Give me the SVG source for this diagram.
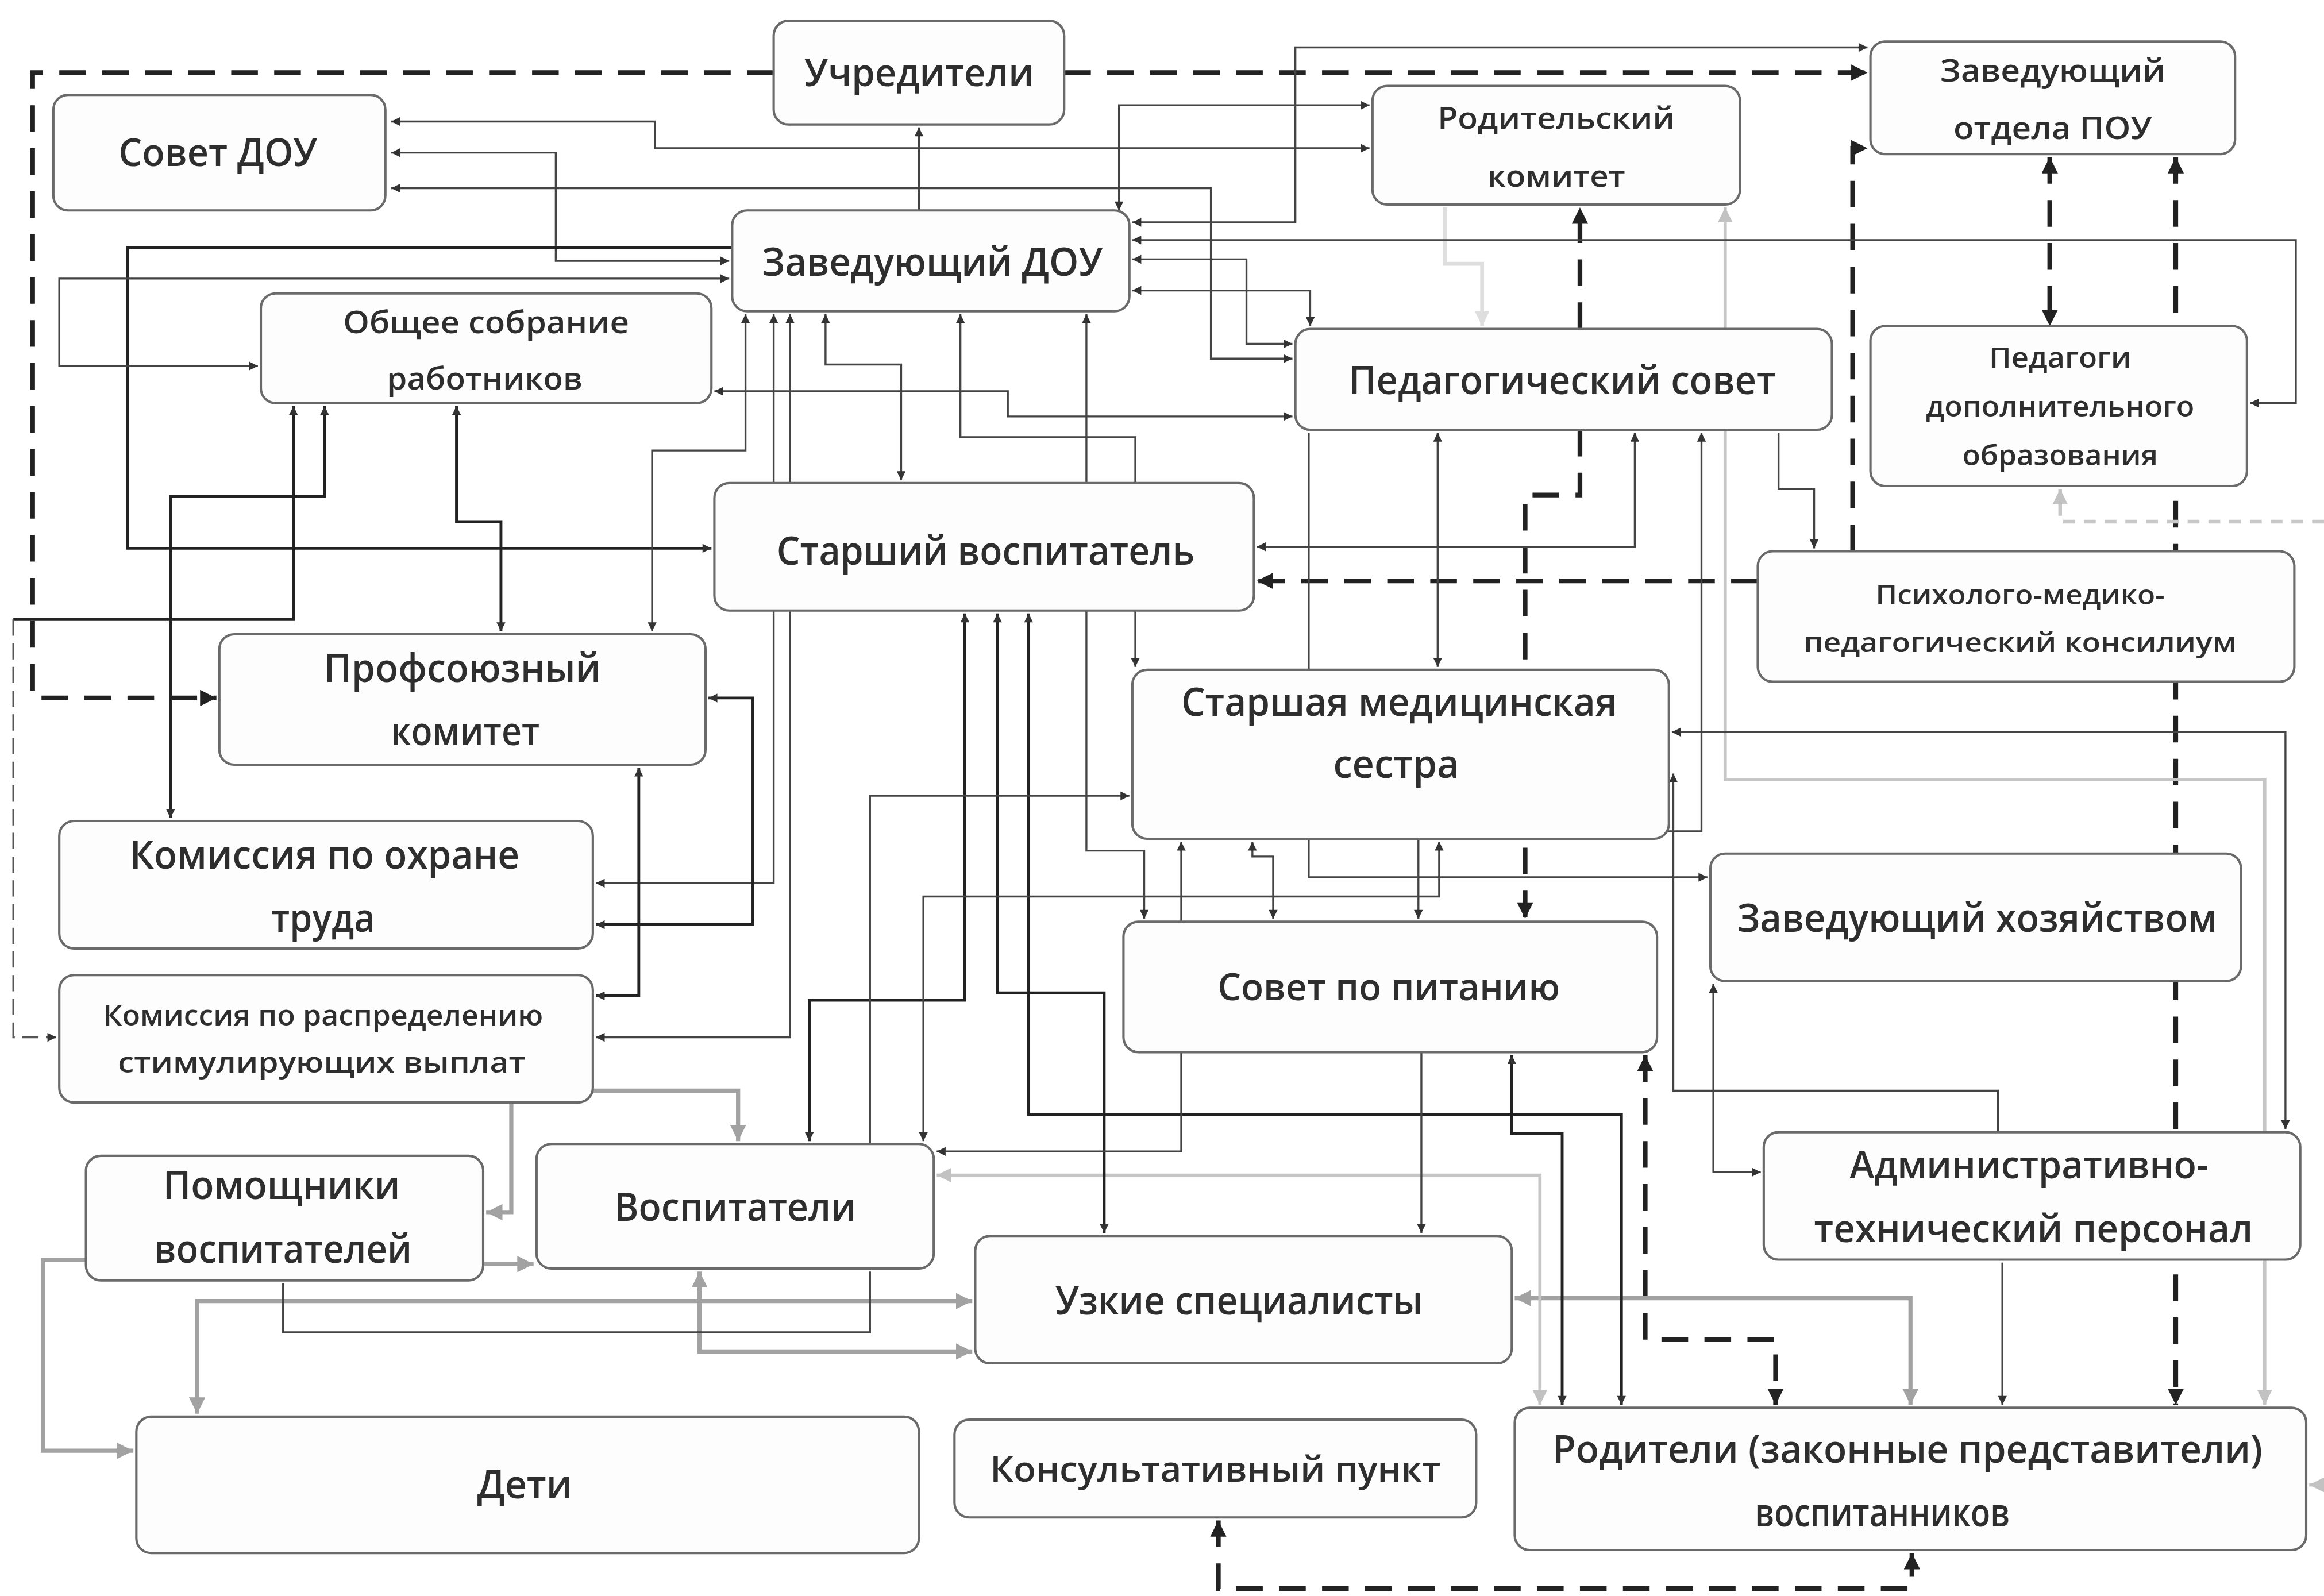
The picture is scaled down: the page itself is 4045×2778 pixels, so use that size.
<svg xmlns="http://www.w3.org/2000/svg" width="4045" height="2778" viewBox="0 0 4045 2778">
<defs>
<style>
.n rect{fill:#fdfdfd;stroke:#6a6a6a;stroke-width:1.6}
.n text{font-family:"Open Sans","Noto Sans","Liberation Sans",sans-serif;font-weight:600;fill:#2e2e2e;text-anchor:middle}
.c{fill:none;stroke:#444;stroke-width:1.3}
.k{fill:none;stroke:#222;stroke-width:1.9}
.g{fill:none;stroke:#a2a2a2;stroke-width:2.8}
.l{fill:none;stroke:#c6c6c6;stroke-width:2.2}
.lf{fill:none;stroke:#dedede;stroke-width:2.6}
.d{fill:none;stroke:#222;stroke-width:3.2;stroke-dasharray:18 11}
.dt{fill:none;stroke:#555;stroke-width:1.3;stroke-dasharray:11 5}
.ld{fill:none;stroke:#c8c8c8;stroke-width:2.5;stroke-dasharray:8 6}
</style>
<marker id="ak" viewBox="0 0 10 10" refX="10" refY="5" markerWidth="7" markerHeight="6" markerUnits="userSpaceOnUse" orient="auto-start-reverse"><path d="M0,0 L10,5 L0,10 z" fill="#333"/></marker>
<marker id="ad" viewBox="0 0 10 10" refX="10" refY="5" markerWidth="12" markerHeight="11" markerUnits="userSpaceOnUse" orient="auto-start-reverse"><path d="M0,0 L10,5 L0,10 z" fill="#222"/></marker>
<marker id="ag" viewBox="0 0 10 10" refX="10" refY="5" markerWidth="11" markerHeight="11" markerUnits="userSpaceOnUse" orient="auto-start-reverse"><path d="M0,0 L10,5 L0,10 z" fill="#a2a2a2"/></marker>
<marker id="al" viewBox="0 0 10 10" refX="10" refY="5" markerWidth="10" markerHeight="10" markerUnits="userSpaceOnUse" orient="auto-start-reverse"><path d="M0,0 L10,5 L0,10 z" fill="#c2c2c2"/></marker>
<marker id="af" viewBox="0 0 10 10" refX="10" refY="5" markerWidth="10" markerHeight="10" markerUnits="userSpaceOnUse" orient="auto-start-reverse"><path d="M0,0 L10,5 L0,10 z" fill="#dedede"/></marker>
</defs>
<rect x="0" y="0" width="4045" height="2778" fill="#ffffff"/>
<g transform="scale(2.5797,2.5794)">
<g id="connectors">
<path class="d" d="M522,49 L22,49 L22,471 L146,471" marker-end="url(#ad)"/>
<path class="d" d="M718,49 L1260,49" marker-end="url(#ad)"/>
<path class="d" d="M1250,372 L1250,100 L1260,100" marker-end="url(#ad)"/>
<path class="d" d="M1186,392 L848,392" marker-end="url(#ad)"/>
<path class="d" d="M1383,106 L1383,220" marker-start="url(#ad)" marker-end="url(#ad)"/>
<path class="d" d="M1468,106 L1468,948" marker-start="url(#ad)" marker-end="url(#ad)"/>
<path class="d" d="M1066,290 L1066,334 L1029,334 L1029,620" marker-end="url(#ad)"/>
<path class="d" d="M1066,222 L1066,140" marker-end="url(#ad)"/>
<path class="d" d="M1110,712 L1110,904 L1198,904 L1198,948" marker-start="url(#ad)" marker-end="url(#ad)"/>
<path class="d" d="M822,1026 L822,1072 L1290,1072 L1290,1048" marker-start="url(#ad)" marker-end="url(#ad)"/>
<path class="ld" d="M1568,352 L1390,352 L1390,330" marker-end="url(#al)"/>
<path class="g" d="M656,878 L133,878 L133,954" marker-start="url(#ag)" marker-end="url(#ag)"/>
<path class="g" d="M472,858 L472,912 L656,912" marker-start="url(#ag)" marker-end="url(#ag)"/>
<path class="g" d="M326,853 L360,853" marker-end="url(#ag)"/>
<path class="g" d="M345,744 L345,818 L328,818" marker-end="url(#ag)"/>
<path class="g" d="M400,736 L498,736 L498,770" marker-end="url(#ag)"/>
<path class="g" d="M58,850 L29,850 L29,979 L90,979" marker-end="url(#ag)"/>
<path class="g" d="M1022,876 L1289,876 L1289,948" marker-start="url(#ag)" marker-end="url(#ag)"/>
<path class="l" d="M1164,140 L1164,526 L1528,526 L1528,948" marker-start="url(#al)" marker-end="url(#al)"/>
<path class="l" d="M632,793 L1039,793 L1039,948" marker-start="url(#al)" marker-end="url(#al)"/>
<path class="lf" d="M975,140 L975,178 L1000,178 L1000,220" marker-end="url(#af)"/>
<path class="l" d="M1568,1002 L1558,1002" marker-end="url(#al)"/>
<path class="c" d="M620,142 L620,86" marker-end="url(#ak)"/>
<path class="c" d="M264,82 L442,82 L442,100 L924,100" marker-start="url(#ak)" marker-end="url(#ak)"/>
<path class="c" d="M264,103 L375,103 L375,176 L492,176" marker-start="url(#ak)" marker-end="url(#ak)"/>
<path class="c" d="M264,127 L817,127 L817,242 L872,242" marker-start="url(#ak)" marker-end="url(#ak)"/>
<path class="c" d="M764,150 L874,150 L874,32 L1260,32" marker-start="url(#ak)" marker-end="url(#ak)"/>
<path class="c" d="M755,142 L755,71 L924,71" marker-start="url(#ak)" marker-end="url(#ak)"/>
<path class="c" d="M764,162 L1549,162 L1549,272 L1518,272" marker-start="url(#ak)" marker-end="url(#ak)"/>
<path class="c" d="M764,175 L841,175 L841,232 L872,232" marker-start="url(#ak)" marker-end="url(#ak)"/>
<path class="c" d="M764,196 L884,196 L884,220" marker-start="url(#ak)" marker-end="url(#ak)"/>
<path class="k" d="M494,167 L86,167 L86,370 L480,370" marker-end="url(#ak)"/>
<path class="c" d="M492,188 L40,188 L40,247 L174,247" marker-start="url(#ak)" marker-end="url(#ak)"/>
<path class="c" d="M503,212 L503,304 L440,304 L440,426" marker-start="url(#ak)" marker-end="url(#ak)"/>
<path class="c" d="M522,212 L522,596 L402,596" marker-start="url(#ak)" marker-end="url(#ak)"/>
<path class="c" d="M533,212 L533,700 L402,700" marker-start="url(#ak)" marker-end="url(#ak)"/>
<path class="c" d="M557,212 L557,246 L608,246 L608,324" marker-start="url(#ak)" marker-end="url(#ak)"/>
<path class="c" d="M648,212 L648,295 L766,295 L766,450" marker-start="url(#ak)" marker-end="url(#ak)"/>
<path class="c" d="M733,212 L733,574 L772,574 L772,620" marker-start="url(#ak)" marker-end="url(#ak)"/>
<path class="c" d="M482,264 L680,264 L680,281 L872,281" marker-start="url(#ak)" marker-end="url(#ak)"/>
<path class="k" d="M198,274 L198,418 L9,418" marker-start="url(#ak)"/>
<path class="dt" d="M9,418 L9,700 L38,700" marker-end="url(#ak)"/>
<path class="k" d="M219,274 L219,335 L115,335 L115,552" marker-start="url(#ak)" marker-end="url(#ak)"/>
<path class="k" d="M308,274 L308,352 L338,352 L338,426" marker-start="url(#ak)" marker-end="url(#ak)"/>
<path class="k" d="M478,471 L508,471 L508,624 L402,624" marker-start="url(#ak)" marker-end="url(#ak)"/>
<path class="k" d="M431,518 L431,672 L402,672" marker-start="url(#ak)" marker-end="url(#ak)"/>
<path class="c" d="M1103,292 L1103,369 L848,369" marker-start="url(#ak)" marker-end="url(#ak)"/>
<path class="c" d="M1148,292 L1148,561 L957,561 L957,620" marker-start="url(#ak)" marker-end="url(#ak)"/>
<path class="c" d="M970,292 L970,450" marker-start="url(#ak)" marker-end="url(#ak)"/>
<path class="c" d="M883,292 L883,592 L1152,592" marker-end="url(#ak)"/>
<path class="c" d="M1200,292 L1200,330 L1224,330 L1224,370" marker-end="url(#ak)"/>
<path class="k" d="M651,414 L651,675 L546,675 L546,770" marker-start="url(#ak)" marker-end="url(#ak)"/>
<path class="k" d="M673,414 L673,670 L745,670 L745,832" marker-start="url(#ak)" marker-end="url(#ak)"/>
<path class="k" d="M694,414 L694,752 L1094,752 L1094,948" marker-start="url(#ak)" marker-end="url(#ak)"/>
<path class="c" d="M971,568 L971,605 L623,605 L623,770" marker-start="url(#ak)" marker-end="url(#ak)"/>
<path class="c" d="M797,568 L797,777 L632,777" marker-start="url(#ak)" marker-end="url(#ak)"/>
<path class="c" d="M845,568 L845,578 L859,578 L859,620" marker-start="url(#ak)" marker-end="url(#ak)"/>
<path class="c" d="M587,772 L587,537 L762,537" marker-end="url(#ak)"/>
<path class="c" d="M191,866 L191,899 L587,899 L587,858"/>
<path class="c" d="M1128,494 L1542,494 L1542,762" marker-start="url(#ak)" marker-end="url(#ak)"/>
<path class="c" d="M1129,522 L1129,736 L1348,736 L1348,764" marker-start="url(#ak)"/>
<path class="c" d="M1156,664 L1156,791 L1188,791" marker-start="url(#ak)" marker-end="url(#ak)"/>
<path class="c" d="M1351,852 L1351,948" marker-end="url(#ak)"/>
<path class="k" d="M1020,712 L1020,765 L1054,765 L1054,948" marker-start="url(#ak)" marker-end="url(#ak)"/>
<path class="c" d="M959,710 L959,832" marker-end="url(#ak)"/>
</g>
<g id="n-uchrediteli" class="n"><rect x="522" y="14" width="196" height="70" rx="10"/><text x="620" y="58" font-size="26" textLength="155" lengthAdjust="spacingAndGlyphs">Учредители</text></g>
<g id="n-sovet-dou" class="n"><rect x="36" y="64" width="224" height="78" rx="10"/><text x="147" y="112" font-size="26" textLength="134" lengthAdjust="spacingAndGlyphs">Совет ДОУ</text></g>
<g id="n-rod-komitet" class="n"><rect x="926" y="58" width="248" height="80" rx="10"/><text x="1050" y="87" font-size="20" textLength="160" lengthAdjust="spacingAndGlyphs">Родительский</text><text x="1050" y="126" font-size="20" textLength="93" lengthAdjust="spacingAndGlyphs">комитет</text></g>
<g id="n-zav-pou" class="n"><rect x="1262" y="28" width="246" height="76" rx="10"/><text x="1385" y="55" font-size="21" textLength="152" lengthAdjust="spacingAndGlyphs">Заведующий</text><text x="1385" y="94" font-size="21" textLength="134" lengthAdjust="spacingAndGlyphs">отдела ПОУ</text></g>
<g id="n-zav-dou" class="n"><rect x="494" y="142" width="268" height="68" rx="10"/><text x="629" y="186" font-size="27" textLength="230" lengthAdjust="spacingAndGlyphs">Заведующий ДОУ</text></g>
<g id="n-obshee" class="n"><rect x="176" y="198" width="304" height="74" rx="10"/><text x="328" y="225" font-size="21" textLength="193" lengthAdjust="spacingAndGlyphs">Общее собрание</text><text x="327" y="263" font-size="21" textLength="132" lengthAdjust="spacingAndGlyphs">работников</text></g>
<g id="n-pedsovet" class="n"><rect x="874" y="222" width="362" height="68" rx="10"/><text x="1054" y="266" font-size="27" textLength="288" lengthAdjust="spacingAndGlyphs">Педагогический совет</text></g>
<g id="n-ped-dop" class="n"><rect x="1262" y="220" width="254" height="108" rx="10"/><text x="1390" y="248" font-size="19" textLength="96" lengthAdjust="spacingAndGlyphs">Педагоги</text><text x="1390" y="281" font-size="19" textLength="181" lengthAdjust="spacingAndGlyphs">дополнительного</text><text x="1390" y="314" font-size="19" textLength="132" lengthAdjust="spacingAndGlyphs">образования</text></g>
<g id="n-star-vosp" class="n"><rect x="482" y="326" width="364" height="86" rx="10"/><text x="665" y="381" font-size="27" textLength="282" lengthAdjust="spacingAndGlyphs">Старший воспитатель</text></g>
<g id="n-pmpk" class="n"><rect x="1186" y="372" width="362" height="88" rx="10"/><text x="1363" y="408" font-size="18" textLength="195" lengthAdjust="spacingAndGlyphs">Психолого-медико-</text><text x="1363" y="440" font-size="18" textLength="292" lengthAdjust="spacingAndGlyphs">педагогический консилиум</text></g>
<g id="n-profkom" class="n"><rect x="148" y="428" width="328" height="88" rx="10"/><text x="312" y="460" font-size="27" textLength="187" lengthAdjust="spacingAndGlyphs">Профсоюзный</text><text x="314" y="503" font-size="27" textLength="100" lengthAdjust="spacingAndGlyphs">комитет</text></g>
<g id="n-medsestra" class="n"><rect x="764" y="452" width="362" height="114" rx="10"/><text x="944" y="483" font-size="27" textLength="294" lengthAdjust="spacingAndGlyphs">Старшая медицинская</text><text x="942" y="525" font-size="27" textLength="85" lengthAdjust="spacingAndGlyphs">сестра</text></g>
<g id="n-kom-ohrana" class="n"><rect x="40" y="554" width="360" height="86" rx="10"/><text x="219" y="586" font-size="27" textLength="263" lengthAdjust="spacingAndGlyphs">Комиссия по охране</text><text x="218" y="629" font-size="27" textLength="70" lengthAdjust="spacingAndGlyphs">труда</text></g>
<g id="n-zavhoz" class="n"><rect x="1154" y="576" width="358" height="86" rx="10"/><text x="1334" y="629" font-size="27" textLength="324" lengthAdjust="spacingAndGlyphs">Заведующий хозяйством</text></g>
<g id="n-sovet-pitanie" class="n"><rect x="758" y="622" width="360" height="88" rx="10"/><text x="937" y="675" font-size="25" textLength="231" lengthAdjust="spacingAndGlyphs">Совет по питанию</text></g>
<g id="n-kom-stim" class="n"><rect x="40" y="658" width="360" height="86" rx="10"/><text x="218" y="692" font-size="19" textLength="297" lengthAdjust="spacingAndGlyphs">Комиссия по распределению</text><text x="217" y="724" font-size="19" textLength="275" lengthAdjust="spacingAndGlyphs">стимулирующих выплат</text></g>
<g id="n-atp" class="n"><rect x="1190" y="764" width="362" height="86" rx="10"/><text x="1369" y="795" font-size="26" textLength="242" lengthAdjust="spacingAndGlyphs">Административно-</text><text x="1372" y="838" font-size="26" textLength="296" lengthAdjust="spacingAndGlyphs">технический персонал</text></g>
<g id="n-pomoshniki" class="n"><rect x="58" y="780" width="268" height="84" rx="10"/><text x="190" y="809" font-size="27" textLength="160" lengthAdjust="spacingAndGlyphs">Помощники</text><text x="191" y="852" font-size="27" textLength="174" lengthAdjust="spacingAndGlyphs">воспитателей</text></g>
<g id="n-vospitateli" class="n"><rect x="362" y="772" width="268" height="84" rx="10"/><text x="496" y="824" font-size="27" textLength="163" lengthAdjust="spacingAndGlyphs">Воспитатели</text></g>
<g id="n-uzkie" class="n"><rect x="658" y="834" width="362" height="86" rx="10"/><text x="836" y="887" font-size="27" textLength="248" lengthAdjust="spacingAndGlyphs">Узкие специалисты</text></g>
<g id="n-deti" class="n"><rect x="92" y="956" width="528" height="92" rx="10"/><text x="354" y="1011" font-size="27" textLength="64" lengthAdjust="spacingAndGlyphs">Дети</text></g>
<g id="n-konsult" class="n"><rect x="644" y="958" width="352" height="66" rx="10"/><text x="820" y="1000" font-size="24" textLength="304" lengthAdjust="spacingAndGlyphs">Консультативный пункт</text></g>
<g id="n-roditeli" class="n"><rect x="1022" y="950" width="534" height="96" rx="10"/><text x="1287" y="987" font-size="26" textLength="479" lengthAdjust="spacingAndGlyphs">Родители (законные представители)</text><text x="1270" y="1030" font-size="27" textLength="172" lengthAdjust="spacingAndGlyphs">воспитанников</text></g>
</g>
</svg>
